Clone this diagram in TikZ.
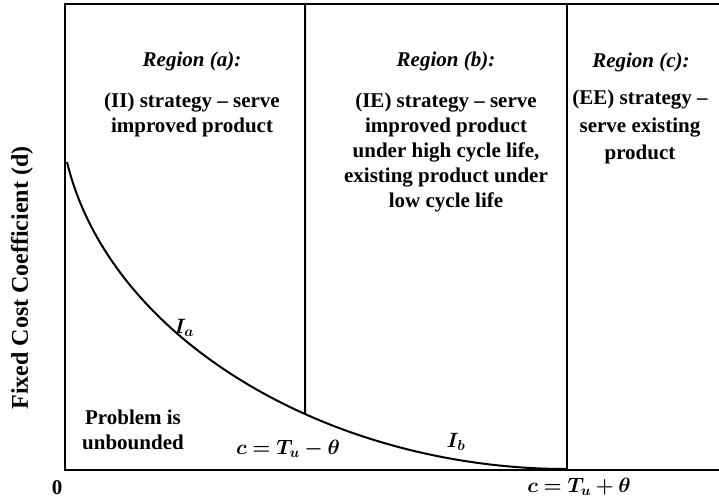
\documentclass[tikz,border=0pt]{standalone}
\usepackage{fontspec}
\setmainfont{Liberation Serif}
\usepackage{amsmath,bm}
\usetikzlibrary{intersections}
\begin{document}
\begin{tikzpicture}[x=1pt,y=-1pt,
  lbl/.style={font=\fontsize{21}{25}\selectfont\bfseries, align=center, inner sep=0pt},
  reg/.style={font=\fontsize{21}{25}\selectfont\bfseries\itshape, inner sep=0pt},
  mth/.style={font=\fontsize{20}{25}\selectfont, inner sep=0pt},
  ln/.style={line width=2pt}]
\useasboundingbox (0,0) rectangle (719,501);
% frame
\draw[ln] (719,4) -- (65,4) -- (65,470) -- (719,470);
% curve
\draw[ln, name path=curve] (67,162) .. controls (110,340) and (330,469) .. (567,469);
\path[name path=vline] (305,4) -- (305,470);
\path[name intersections={of=curve and vline, by=ia}];
\draw[ln] (305,4) -- (ia);
\draw[ln] (567,4) -- (567,470);
% region texts
\node[reg] (ra) at (192,61) {Region (a):};
\node[lbl, anchor=north] (ta) at (192,93) {(II) strategy -- serve\\improved product};
\node[reg] (rb) at (446,61) {Region (b):};
\node[lbl, anchor=north] (tb) at (446,93) {(IE) strategy -- serve\\improved product\\under high cycle life,\\existing product under\\low cycle life};
\node[reg] (rc) at (641,62) {Region (c):};
\node[lbl, anchor=north, font=\fontsize{21}{27.5}\selectfont\bfseries] (tc) at (640,90) {(EE) strategy --\\serve existing\\product};
% axis label
\node[lbl, rotate=90, font=\fontsize{24}{28}\selectfont\bfseries] (yl) at (22,278) {Fixed Cost Coefficient (d)};
\node[lbl] (zero) at (57,488) {0};
\node[lbl] (pu) at (133,430) {Problem is\\unbounded};
\node[mth] (c1) at (288,449) {$\bm{c = T_u - \theta}$};
\node[mth] (c2) at (579,487) {$\bm{c = T_u + \theta}$};
\node[mth] (Ia) at (184,328) {$\bm{I_a}$};
\node[mth] (Ib) at (456,442) {$\bm{I_b}$};
\end{tikzpicture}
\end{document}
